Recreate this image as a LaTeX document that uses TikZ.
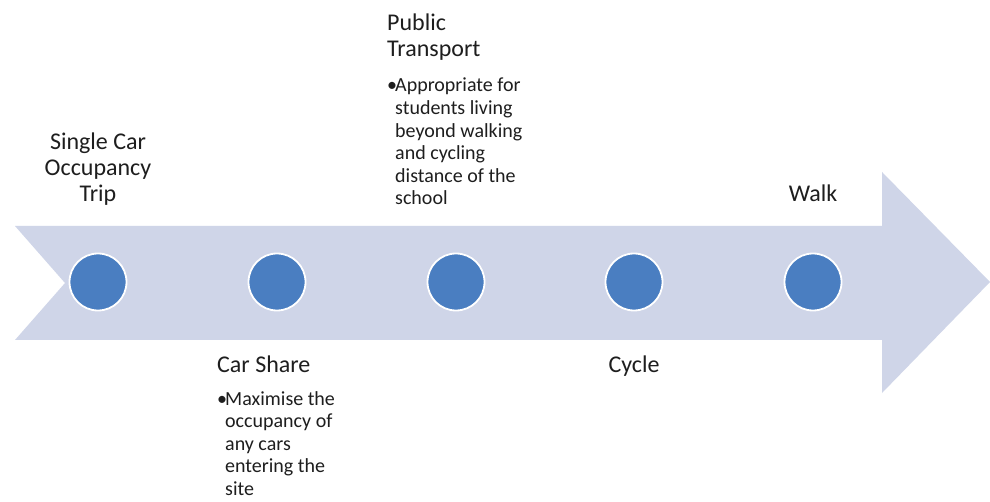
\documentclass[tikz,border=0pt]{standalone}
\usepackage{fontspec}
\setmainfont{Carlito}
\definecolor{arrowfill}{HTML}{CFD5E8}
\definecolor{dotfill}{HTML}{4A7EC1}
\definecolor{txt}{HTML}{1E1E1E}
\newcommand{\bul}{\makebox[8pt][l]{•}}
\begin{document}
\begin{tikzpicture}[x=1pt,y=-1pt,
  dot/.style={circle, fill=dotfill, draw=white, line width=1.8pt, minimum size=57pt, inner sep=0pt},
  ttl/.style={text=txt, inner sep=0pt, font=\fontsize{24}{26}\selectfont},
  bltxt/.style={text=txt, inner sep=0pt, font=\fontsize{20}{22.6}\selectfont}]
\useasboundingbox (0,0) rectangle (990,502);
\fill[white] (0,0) rectangle (990,502);
% arrow
\fill[arrowfill] (15,226) -- (882,226) -- (882,172) -- (990,282) -- (882,393)
  -- (882,340) -- (15,340) -- (65,283) -- cycle;
% dots
\node[dot] (d1) at (98,282) {};
\node[dot] (d2) at (277,282) {};
\node[dot] (d3) at (456,282) {};
\node[dot] (d4) at (634,282) {};
\node[dot] (d5) at (813,282) {};
% labels
\node[ttl, anchor=base] (l1) at (98,150) {\parbox[t]{160pt}{\centering Single Car\\Occupancy\\Trip}};
\node[ttl, anchor=base west] (l2t) at (217,372) {\parbox[t]{160pt}{Car Share}};
\node[bltxt, anchor=base west] (l2b) at (217,405) {\parbox[t]{160pt}{\hangindent=8pt\hangafter=1\noindent\bul Maximise the\\occupancy of\\any cars\\entering the\\site}};
\node[ttl, anchor=base west] (l3t) at (387,31) {\parbox[t]{160pt}{Public\\Transport}};
\node[bltxt, anchor=base west] (l3b) at (387,92) {\parbox[t]{180pt}{\hangindent=8pt\hangafter=1\noindent\bul Appropriate for\\students living\\beyond walking\\and cycling\\distance of the\\school}};
\node[ttl, anchor=base] (l4) at (634,372) {Cycle};
\node[ttl, anchor=base] (l5) at (813,201.5) {Walk};
\end{tikzpicture}
\end{document}
